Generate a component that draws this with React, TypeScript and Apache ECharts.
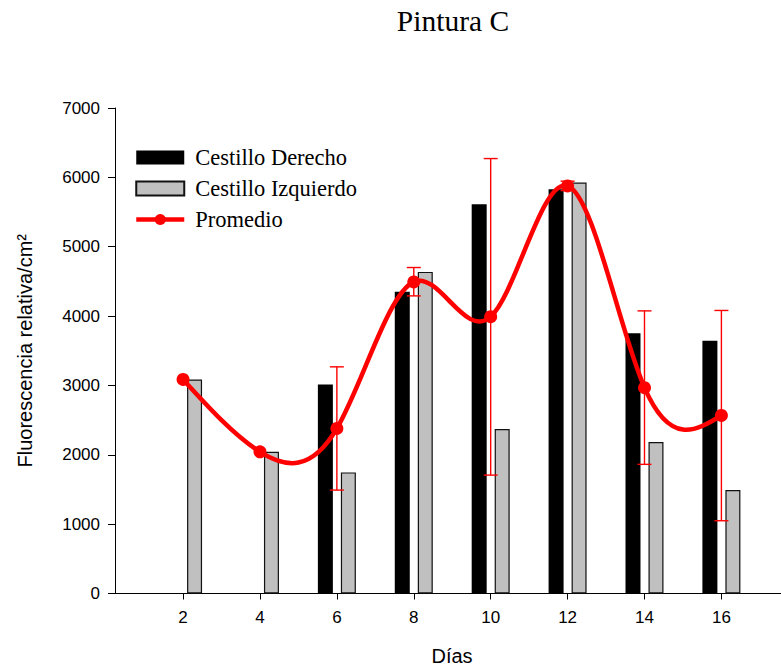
import React, { useEffect, useRef } from "react";
import * as echarts from "echarts";

// Days of measurement
const dias = [2, 4, 6, 8, 10, 12, 14, 16];
// Right basket (no reading on days 2 and 4)
const cestilloDerecho: (number | null)[] = [null, null, 3014, 4349, 5612, 5829, 3754, 3643];
// Left basket
const cestilloIzquierdo = [3086, 2043, 1746, 4637, 2370, 5925, 2183, 1491];
// Mean of both baskets
const promedio = [3086, 2043, 2380, 4493, 3991, 5877, 2968, 2567];
// Error bar limits (null where only one basket was read)
const errorBajo: (number | null)[] = [null, null, 1491, 4291, 1707, 5809, 1862, 1049];
const errorAlto: (number | null)[] = [null, null, 3268, 4700, 6271, 5945, 4075, 4081];
// Axis ticks
const xTicks = [2, 4, 6, 8, 10, 12, 14, 16];

const RED = "#ff0000";
const SANS = '"Liberation Sans", Arial, sans-serif';
const SERIF = '"Liberation Serif", "Times New Roman", serif';

// Natural cubic spline through the mean values, expressed as cubic Bezier segments
function splineSegments(xs: number[], ys: number[]): number[][] {
  const n = xs.length;
  const h: number[] = [];
  for (let i = 0; i < n - 1; i++) h.push(xs[i + 1] - xs[i]);
  const M = new Array(n).fill(0);
  const m = n - 2;
  if (m > 0) {
    const a: number[] = [], b: number[] = [], c: number[] = [], r: number[] = [];
    for (let i = 1; i <= m; i++) {
      a.push(h[i - 1]);
      b.push(2 * (h[i - 1] + h[i]));
      c.push(h[i]);
      r.push(6 * ((ys[i + 1] - ys[i]) / h[i] - (ys[i] - ys[i - 1]) / h[i - 1]));
    }
    for (let i = 1; i < m; i++) {
      const w = a[i] / b[i - 1];
      b[i] -= w * c[i - 1];
      r[i] -= w * r[i - 1];
    }
    const sol = new Array(m).fill(0);
    sol[m - 1] = r[m - 1] / b[m - 1];
    for (let i = m - 2; i >= 0; i--) sol[i] = (r[i] - c[i] * sol[i + 1]) / b[i];
    for (let i = 0; i < m; i++) M[i + 1] = sol[i];
  }
  const segs: number[][] = [];
  for (let i = 0; i < n - 1; i++) {
    const hi = h[i];
    const s = (ys[i + 1] - ys[i]) / hi;
    const d0 = s - (hi * (2 * M[i] + M[i + 1])) / 6;
    const d1 = s + (hi * (M[i] + 2 * M[i + 1])) / 6;
    segs.push([
      xs[i], ys[i],
      xs[i] + hi / 3, ys[i] + (d0 * hi) / 3,
      xs[i + 1] - hi / 3, ys[i + 1] - (d1 * hi) / 3,
      xs[i + 1], ys[i + 1],
    ]);
  }
  return segs;
}

export default function App() {
  const ref = useRef<HTMLDivElement>(null);

  useEffect(() => {
    document.body.style.margin = "0";
    if (!ref.current) return;
    const chart = echarts.init(ref.current, undefined, { renderer: "svg" });

    const curva = splineSegments(dias, promedio);
    const errores = dias
      .map((d, i) => [d, errorBajo[i], errorAlto[i]])
      .filter((e) => e[1] != null && e[2] != null);

    chart.setOption({
      animation: false,
      backgroundColor: "#ffffff",
      grid: { left: 115, top: 108, right: 0, bottom: 76.5, containLabel: false },
      graphic: [
        {
          type: "text",
          x: 453,
          y: 6,
          style: {
            text: "Pintura C",
            font: `29.5px ${SERIF}`,
            fill: "#000",
            textAlign: "center",
            textVerticalAlign: "top",
          },
        },
        {
          type: "text",
          x: 452,
          y: 646,
          style: {
            text: "Días",
            font: `20px ${SANS}`,
            fill: "#000",
            textAlign: "center",
            textVerticalAlign: "top",
          },
        },
      ],
      legend: {
        orient: "vertical",
        left: 134,
        top: 146,
        padding: 0,
        itemWidth: 48,
        itemHeight: 14,
        itemGap: 8,
        textStyle: {
          fontFamily: SERIF,
          fontSize: 22.5,
          lineHeight: 22,
          color: "#000",
          padding: [0, 0, 0, 6],
        },
        data: [
          { name: "Cestillo Derecho", icon: "rect" },
          { name: "Cestillo Izquierdo", icon: "rect" },
          {
            name: "Promedio",
            lineStyle: { width: 4.5, opacity: 1, color: RED },
          },
        ],
      },
      xAxis: {
        type: "value",
        min: 0.23,
        max: 17.55,
        splitLine: { show: false },
        axisLine: { onZero: false, lineStyle: { color: "#000", width: 1 } },
        axisTick: {
          customValues: xTicks,
          length: 6,
          lineStyle: { color: "#000" },
        },
        axisLabel: {
          customValues: xTicks,
          fontFamily: SANS,
          fontSize: 17,
          color: "#000",
          margin: 15,
        },
      },
      yAxis: {
        type: "value",
        min: 0,
        max: 7000,
        interval: 1000,
        name: "Fluorescencia relativa/cm²",
        nameLocation: "middle",
        nameRotate: 90,
        nameGap: 80,
        nameTextStyle: { fontFamily: SANS, fontSize: 20, color: "#000" },
        splitLine: { show: false },
        axisLine: { show: true, onZero: false, lineStyle: { color: "#000", width: 1 } },
        axisTick: { show: true, length: 7, lineStyle: { color: "#000" } },
        axisLabel: {
          fontFamily: SANS,
          fontSize: 17,
          color: "#000",
          margin: 15,
          formatter: (v: number) => String(v),
        },
      },
      series: [
        {
          name: "Cestillo Derecho",
          type: "bar",
          barWidth: 15,
          barGap: "53.3%",
          itemStyle: { color: "#000000", borderColor: "#000000", borderWidth: 0 },
          data: dias.map((d, i) => [d, cestilloDerecho[i]]),
          z: 2,
        },
        {
          name: "Cestillo Izquierdo",
          type: "bar",
          barWidth: 15,
          barGap: "53.3%",
          itemStyle: { color: "#c0c0c0", borderColor: "#111111", borderWidth: 1.2 },
          data: dias.map((d, i) => [d, cestilloIzquierdo[i]]),
          z: 2,
        },
        {
          name: "errores",
          type: "custom",
          data: errores,
          encode: { x: 0, y: [1, 2] },
          z: 3,
          silent: true,
          renderItem: (_params: any, api: any) => {
            const x = api.value(0);
            const lo = api.coord([x, api.value(1)]);
            const hi = api.coord([x, api.value(2)]);
            const half = 7;
            const style = { stroke: RED, lineWidth: 1.4 };
            return {
              type: "group",
              children: [
                { type: "line", shape: { x1: lo[0], y1: lo[1], x2: hi[0], y2: hi[1] }, style },
                { type: "line", shape: { x1: hi[0] - half, y1: hi[1], x2: hi[0] + half, y2: hi[1] }, style },
                { type: "line", shape: { x1: lo[0] - half, y1: lo[1], x2: lo[0] + half, y2: lo[1] }, style },
              ],
            };
          },
        },
        {
          name: "curva",
          type: "custom",
          data: curva,
          encode: { x: [0, 6], y: [1, 7] },
          z: 4,
          silent: true,
          renderItem: (_params: any, api: any) => {
            const p0 = api.coord([api.value(0), api.value(1)]);
            const c1 = api.coord([api.value(2), api.value(3)]);
            const c2 = api.coord([api.value(4), api.value(5)]);
            const p1 = api.coord([api.value(6), api.value(7)]);
            return {
              type: "bezierCurve",
              shape: {
                x1: p0[0], y1: p0[1],
                x2: p1[0], y2: p1[1],
                cpx1: c1[0], cpy1: c1[1],
                cpx2: c2[0], cpy2: c2[1],
              },
              style: { stroke: RED, lineWidth: 4.5, fill: "none", lineCap: "round" },
            };
          },
        },
        {
          name: "Promedio",
          type: "line",
          data: dias.map((d, i) => [d, promedio[i]]),
          symbol: "circle",
          symbolSize: 13,
          showSymbol: true,
          lineStyle: { width: 0, opacity: 0, color: RED },
          itemStyle: { color: RED },
          z: 5,
        },
      ],
    });

    return () => chart.dispose();
  }, []);

  return <div ref={ref} style={{ width: 781, height: 670 }} />;
}
